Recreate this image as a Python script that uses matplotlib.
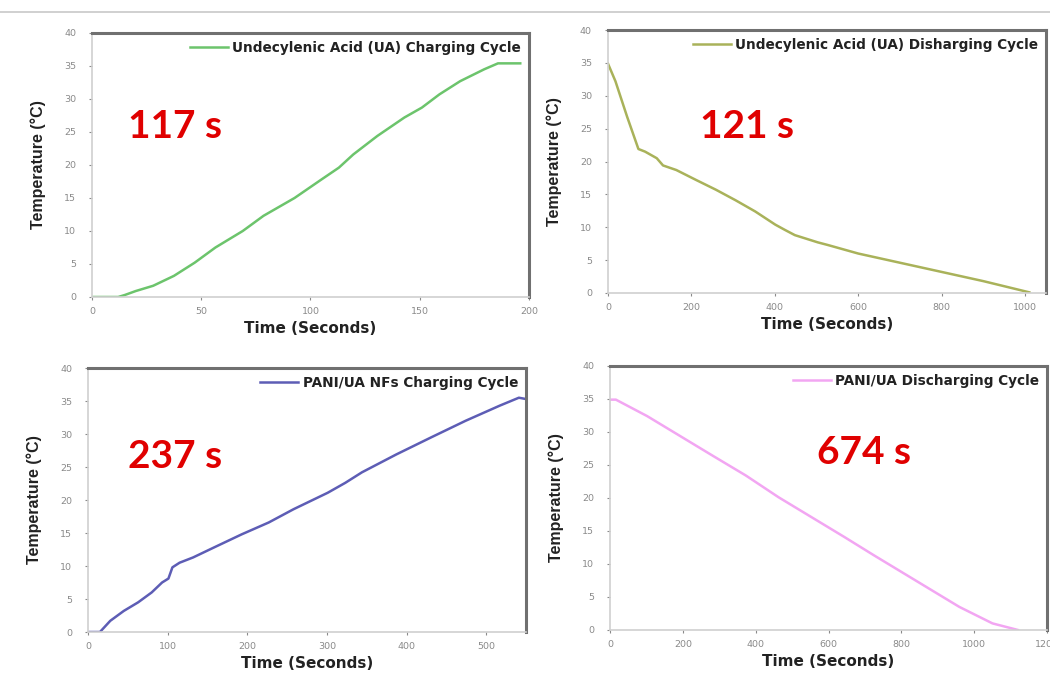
import matplotlib
matplotlib.use("Agg")
import matplotlib.pyplot as plt
from matplotlib.lines import Line2D

# UA charging cycle
ua_chg_t = [0, 12, 15, 20, 28, 37.5, 47, 56.5, 69, 78.5, 92.7, 105, 113, 119.6,
            130.6, 143, 151, 159, 168.5, 179.5, 185.8, 196]
ua_chg_T = [0, 0, 0.3, 0.9, 1.7, 3.2, 5.2, 7.5, 10, 12.3, 15, 17.8, 19.6, 21.6,
            24.4, 27.2, 28.7, 30.7, 32.7, 34.5, 35.4, 35.4]

# UA discharging cycle
ua_dis_t = [0, 18, 46, 73, 89, 117, 132, 164, 211, 259, 306, 353, 401, 424,
            448, 503, 527, 600, 700, 800, 900, 1010]
ua_dis_T = [34.9, 32.2, 26.8, 21.9, 21.5, 20.5, 19.4, 18.7, 17.2, 15.7, 14.1,
            12.4, 10.4, 9.6, 8.8, 7.7, 7.3, 6.0, 4.6, 3.2, 1.8, 0.1]

# PANI/UA NFs charging cycle
pani_chg_t = [0, 15, 28, 45, 63, 80, 93, 101, 106, 115, 132, 158, 193, 227,
              258, 301, 323, 344, 387, 431, 474, 517, 541, 550]
pani_chg_T = [0, 0, 1.7, 3.2, 4.5, 6.0, 7.5, 8.1, 9.8, 10.5, 11.3, 12.8, 14.8,
              16.6, 18.6, 21.1, 22.6, 24.2, 26.9, 29.5, 32.0, 34.3, 35.5, 35.3]

# PANI/UA discharging cycle
pani_dis_t = [0, 16, 102, 192, 282, 373, 463, 553, 643, 725, 779, 869, 959,
              1050, 1120]
pani_dis_T = [34.9, 34.9, 32.4, 29.4, 26.4, 23.4, 20.1, 17.1, 14.1, 11.3, 9.5,
              6.5, 3.5, 1.0, 0]

panels = [
    dict(t=ua_chg_t, T=ua_chg_T, color="#6cc46c",
         label="Undecylenic Acid (UA) Charging Cycle",
         xlim=(0, 200), xticks=[0, 50, 100, 150, 200],
         rect=[0.0876, 0.5626, 0.4162, 0.3888],
         note="117 s", note_xy=(128, 126)),
    dict(t=ua_dis_t, T=ua_dis_T, color="#a9b25a",
         label="Undecylenic Acid (UA) Disharging Cycle",
         xlim=(0, 1050), xticks=[0, 200, 400, 600, 800, 1000],
         rect=[0.579, 0.5685, 0.4172, 0.3873],
         note="121 s", note_xy=(700, 126)),
    dict(t=pani_chg_t, T=pani_chg_T, color="#5d5db5",
         label="PANI/UA NFs Charging Cycle",
         xlim=(0, 550), xticks=[0, 100, 200, 300, 400, 500],
         rect=[0.0838, 0.0692, 0.4172, 0.3888],
         note="237 s", note_xy=(128, 456)),
    dict(t=pani_dis_t, T=pani_dis_T, color="#f2a6f2",
         label="PANI/UA Discharging Cycle",
         xlim=(0, 1200), xticks=[0, 200, 400, 600, 800, 1000, 1200],
         rect=[0.581, 0.0722, 0.4162, 0.3888],
         note="674 s", note_xy=(817, 453)),
]

W, H = 1050, 679
fig = plt.figure(figsize=(W / 100, H / 100), dpi=100)
fig.patch.set_facecolor("white")

# thin rule across the top of the page
fig.add_artist(Line2D([0, 1], [1 - 12 / H, 1 - 12 / H], transform=fig.transFigure,
                      color="#c8c8c8", lw=1.2))

for p in panels:
    ax = fig.add_axes(p["rect"])
    ax.plot(p["t"], p["T"], color=p["color"], lw=1.8, label=p["label"])
    ax.set_xlim(*p["xlim"])
    ax.set_ylim(0, 40)
    ax.set_xticks(p["xticks"])
    ax.set_yticks(range(0, 41, 5))
    ax.tick_params(axis="both", labelsize=6.8, colors="#8a8a8a", length=2.5,
                   width=0.8, direction="out")
    ax.tick_params(axis="y", pad=9)
    ax.tick_params(axis="x", pad=5)
    for s in ("left", "bottom"):
        ax.spines[s].set_color("#d0d0d0")
        ax.spines[s].set_linewidth(1.2)
    for s in ("top", "right"):
        ax.spines[s].set_color("#707070")
        ax.spines[s].set_linewidth(2.2)
    ax.set_xlabel("Time (Seconds)", fontsize=11, fontweight="bold",
                  family="DejaVu Sans", color="#222222", labelpad=3)
    ax.set_ylabel("Temperature (°C)", fontsize=11.5, fontweight="bold",
                  family="Liberation Sans", color="#222222", labelpad=13)
    leg = ax.legend(loc="upper right", frameon=False, handlelength=2.8,
                    borderaxespad=0.2, handletextpad=0.3,
                    prop=dict(family="DejaVu Sans", weight="bold", size=9.8))
    for txt in leg.get_texts():
        txt.set_color("#222222")
    x, y = p["note_xy"]
    fig.text(x / W, 1 - y / H, p["note"], color="#e00000", fontsize=28,
             fontweight="bold", family="Lato", ha="left", va="center")

fig.savefig("out.png", dpi=100, facecolor="white")
